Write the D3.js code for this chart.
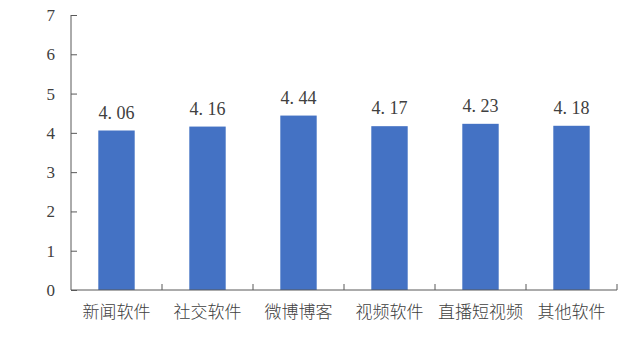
<!DOCTYPE html>
<html>
<head>
<meta charset="utf-8">
<script src="https://cdn.jsdelivr.net/npm/d3@7"></script>
<style>
  body { margin: 0; background: #fff; }
  svg { display: block; }
</style>
</head>
<body>
<svg id="chart" width="640" height="338"></svg>
<script>
const categories = ['新闻软件', '社交软件', '微博博客', '视频软件', '直播短视频', '其他软件'];
const values = [4.06, 4.16, 4.44, 4.17, 4.23, 4.18];
const yTicks = [0, 1, 2, 3, 4, 5, 6, 7];

const margin = { top: 15, right: 23, bottom: 48, left: 71 };
const width = 640, height = 338;
const chartWidth = width - margin.left - margin.right;
const chartHeight = height - margin.top - margin.bottom;

const numFont = '"Liberation Serif", "DejaVu Serif", serif';
const cjkFont = '"Noto Sans CJK SC", sans-serif';
const axisColor = '#595959';

const svg = d3.select('#chart');
const g = svg.append('g').attr('transform', `translate(${margin.left},${margin.top})`);

const xScale = d3.scaleBand().domain(categories).range([0, chartWidth]).paddingInner(0.6).paddingOuter(0.3);
const xEdges = d3.scaleBand().domain(categories).range([0, chartWidth]);
const yScale = d3.scaleLinear().domain([0, 7]).range([chartHeight, 0]);

// bars
g.selectAll('.bar')
  .data(values)
  .enter()
  .append('rect')
  .attr('class', 'bar')
  .attr('x', (d, i) => xScale(categories[i]))
  .attr('y', d => yScale(d))
  .attr('width', xScale.bandwidth())
  .attr('height', d => chartHeight - yScale(d))
  .attr('fill', '#4472C4');

// value labels
g.selectAll('.value')
  .data(values)
  .enter()
  .append('text')
  .attr('x', (d, i) => xScale(categories[i]) + xScale.bandwidth() / 2)
  .attr('y', d => yScale(d) - 12)
  .attr('text-anchor', 'middle')
  .style('font-family', numFont)
  .style('font-size', '18px')
  .style('fill', '#404040')
  .text(d => d.toFixed(2).replace('.', '. '));

// y axis
const yAxis = g.append('g')
  .call(d3.axisLeft(yScale).tickValues(yTicks).tickSize(-6).tickPadding(16).tickFormat(d3.format('d')));
yAxis.select('.domain').attr('stroke', axisColor).attr('d', `M0,0V${chartHeight}`);
yAxis.selectAll('.tick line').attr('stroke', axisColor);
yAxis.selectAll('text')
  .style('font-family', numFont)
  .style('font-size', '17px')
  .style('fill', '#404040');

// x axis, ticks at category boundaries
const xAxisG = g.append('g').attr('transform', `translate(0,${chartHeight})`);
xAxisG.append('line')
  .attr('x1', 0).attr('x2', chartWidth)
  .attr('stroke', axisColor);
const bounds = categories.map(c => xEdges(c) + xEdges.bandwidth());
xAxisG.selectAll('.xt')
  .data(bounds)
  .enter()
  .append('line')
  .attr('x1', d => d).attr('x2', d => d)
  .attr('y1', 0).attr('y2', -6)
  .attr('stroke', axisColor);
xAxisG.selectAll('.xl')
  .data(categories)
  .enter()
  .append('text')
  .attr('x', d => xEdges(d) + xEdges.bandwidth() / 2)
  .attr('y', 28)
  .attr('text-anchor', 'middle')
  .style('font-family', cjkFont)
  .style('font-size', '17px')
  .style('font-weight', 300)
  .style('fill', '#404040')
  .text(d => d);
</script>
</body>
</html>
